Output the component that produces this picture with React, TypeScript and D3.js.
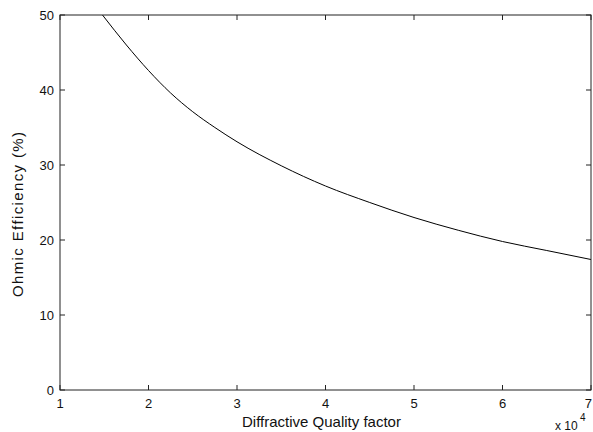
import React from "react";
import * as d3 from "d3";

const qFactor = [1.48, 1.75, 2.0, 2.25, 2.5, 2.75, 3.0, 3.5, 4.0, 4.5, 5.0, 5.5, 6.0, 6.5, 7.0];
const efficiency = [50.0, 46.0, 42.6, 39.6, 37.1, 35.0, 33.1, 29.9, 27.2, 25.0, 23.0, 21.3, 19.8, 18.6, 17.4];
const xTicks = [1, 2, 3, 4, 5, 6, 7];
const yTicks = [0, 10, 20, 30, 40, 50];

const W = 593;
const H = 432;
const left = 60;
const right = 591;
const top = 15;
const bottom = 390;

export default function App() {
  const x = d3.scaleLinear().domain([1, 7]).range([left, right]);
  const y = d3.scaleLinear().domain([0, 50]).range([bottom, top]);
  const pts: [number, number][] = qFactor.map((q, i) => [q, efficiency[i]]);
  const line = d3
    .line<[number, number]>()
    .x((d) => x(d[0]))
    .y((d) => y(d[1]))
    .curve(d3.curveMonotoneX);
  const font = "'Liberation Sans', Arial, Helvetica, sans-serif";
  const tl = 5;
  return (
    <svg
      width={W}
      height={H}
      style={{ position: "absolute", left: 0, top: 0, background: "#ffffff" }}
      fontFamily={font}
    >
      <defs>
        <clipPath id="plotclip">
          <rect x={left} y={top} width={right - left} height={bottom - top} />
        </clipPath>
      </defs>
      <path d={line(pts) || ""} fill="none" stroke="#000" strokeWidth={1} clipPath="url(#plotclip)" />
      <rect x={left} y={top} width={right - left} height={bottom - top} fill="none" stroke="#222" strokeWidth={1} />
      {xTicks.map((t, i) => (
        <g key={"x" + t}>
          <line x1={x(t)} x2={x(t)} y1={bottom} y2={bottom - tl} stroke="#222" />
          <line x1={x(t)} x2={x(t)} y1={top} y2={top + tl} stroke="#222" />
          <text
            x={i === xTicks.length - 1 ? W - 1 : x(t)}
            y={408}
            textAnchor={i === xTicks.length - 1 ? "end" : "middle"}
            fontSize={13}
            fill="#111"
          >
            {t}
          </text>
        </g>
      ))}
      {yTicks.map((t) => (
        <g key={"y" + t}>
          <line x1={left} x2={left + tl} y1={y(t)} y2={y(t)} stroke="#222" />
          <line x1={right} x2={right - tl} y1={y(t)} y2={y(t)} stroke="#222" />
          <text x={left - 6} y={y(t) + 4.5} textAnchor="end" fontSize={13} fill="#111">
            {t}
          </text>
        </g>
      ))}
      <text x={321.5} y={427} textAnchor="middle" fontSize={15} fill="#111">
        Diffractive Quality factor
      </text>
      <text x={555} y={430} fontSize={12} fill="#111">
        x 10
      </text>
      <text x={580} y={421} fontSize={10} fill="#111">
        4
      </text>
      <text
        transform={`translate(23, 214.5) rotate(-90)`}
        textAnchor="middle"
        fontSize={15}
        fill="#111"
        textLength={165}
        lengthAdjust="spacing"
      >
        Ohmic Efficiency (%)
      </text>
    </svg>
  );
}
